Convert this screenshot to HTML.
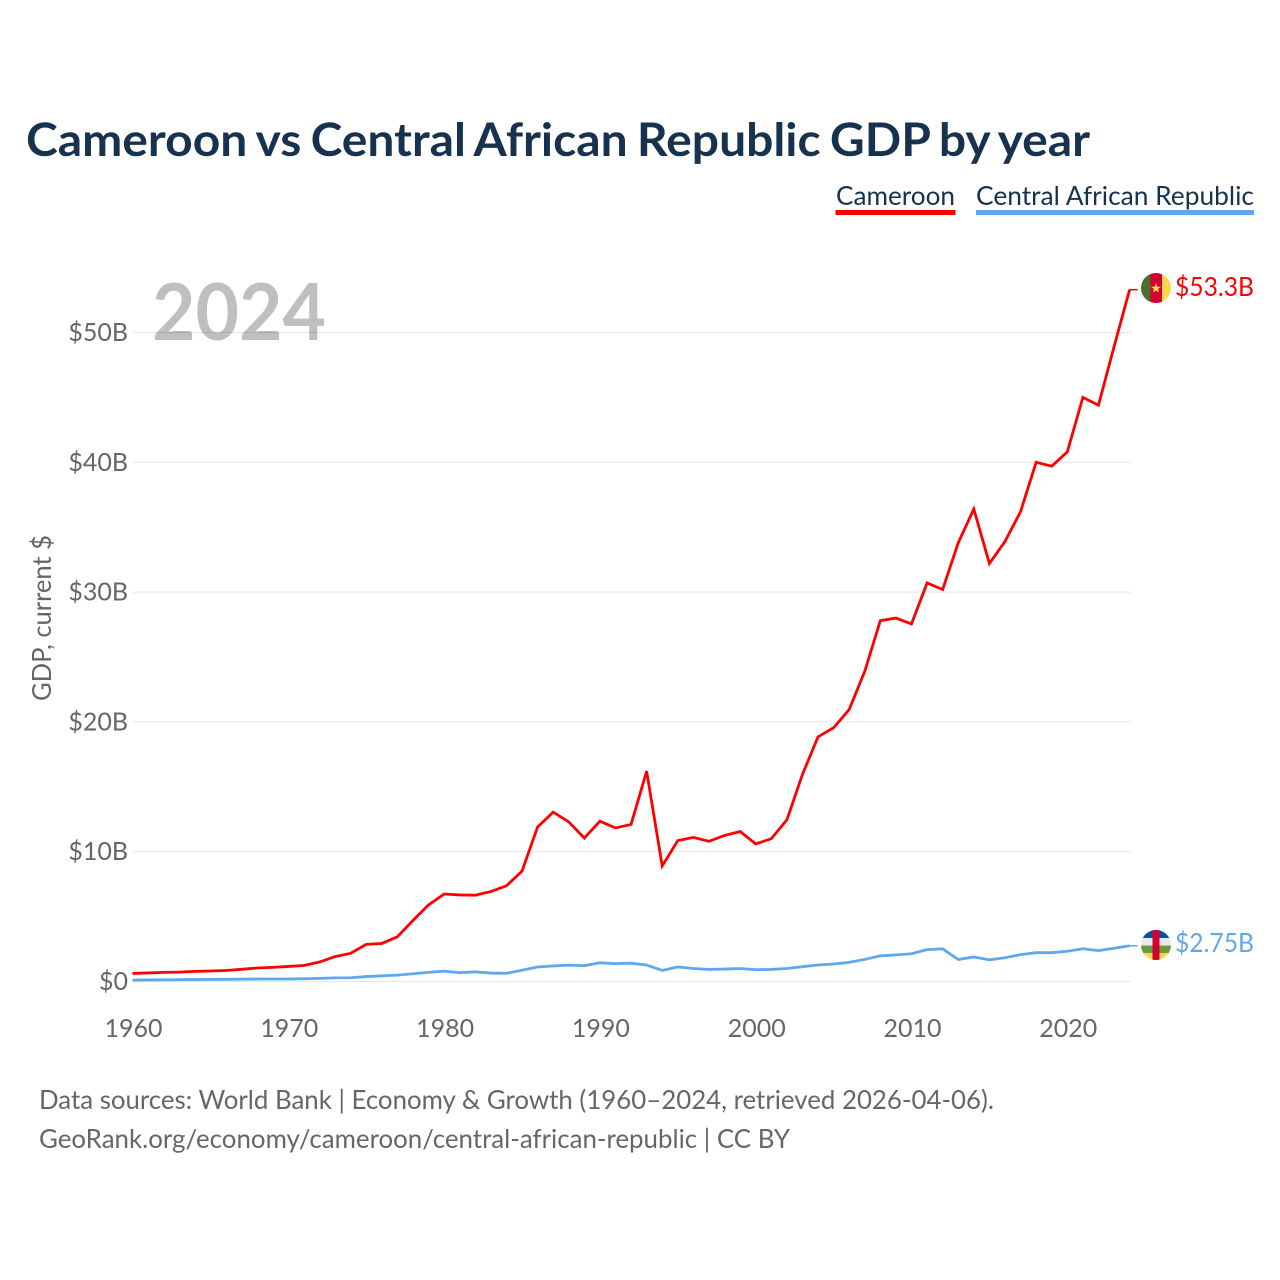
<!DOCTYPE html>
<html lang="en">
<head>
<meta charset="utf-8">
<title>Cameroon vs Central African Republic GDP by year</title>
<style>
html,body{margin:0;padding:0;background:#fff;width:1280px;height:1280px;overflow:hidden}
svg{display:block}
text{font-family:"Lato","Carlito","Liberation Sans",sans-serif}
</style>
</head>
<body>
<svg id="chart" xmlns="http://www.w3.org/2000/svg" width="1280" height="1280" viewBox="0 0 1280 1280">
  <rect width="1280" height="1280" fill="#fff"/>
  <text x="26" y="156" font-size="46" font-weight="700" fill="#17324f" word-spacing="-2.3" textLength="1064" lengthAdjust="spacingAndGlyphs">Cameroon vs Central African Republic GDP by year</text>

  <g>
    <text x="836" y="205" font-size="26" fill="#17324f" textLength="119" lengthAdjust="spacingAndGlyphs">Cameroon</text>
    <rect x="835.500" y="210" width="120" height="5" fill="#ff0000"/>
  </g>
  <g>
    <text x="976" y="205" font-size="26" fill="#17324f" textLength="278" lengthAdjust="spacingAndGlyphs">Central African Republic</text>
    <rect x="976" y="210" width="278" height="5" fill="#5fa8ee"/>
  </g>

  <g id="grid"></g>
  <g id="yTicks"></g>
  <g id="xTicks"></g>

  <text transform="translate(51,618) rotate(-90)" text-anchor="middle" font-size="26" fill="#666" textLength="166" lengthAdjust="spacingAndGlyphs">GDP, current $</text>
  <text x="152" y="340" font-size="79" font-weight="700" fill="#000" fill-opacity="0.25" textLength="174" lengthAdjust="spacingAndGlyphs">2024</text>

  <g id="series"></g>

  <defs>
    <clipPath id="flagClipCm"><circle cx="1156" cy="288" r="15"/></clipPath>
    <clipPath id="flagClipCf"><circle cx="1156" cy="945" r="15"/></clipPath>
  </defs>

  <g clip-path="url(#flagClipCm)">
    <rect x="1141" y="273" width="9.500" height="30" fill="#4a6f2c"/>
    <rect x="1150.500" y="273" width="11.500" height="30" fill="#d5002f"/>
    <rect x="1162" y="273" width="9" height="30" fill="#ffd44f"/>
    <polygon points="1156,283 1157.300,286.600 1161,286.700 1158.100,289 1159.100,292.600 1156,290.500 1152.900,292.600 1153.900,289 1151,286.700 1154.700,286.600" fill="#ffd44f"/>
  </g>
  <g clip-path="url(#flagClipCf)">
    <rect x="1141" y="930" width="30" height="8" fill="#0b4ea2"/>
    <rect x="1141" y="938" width="30" height="7.500" fill="#e9e9e9"/>
    <rect x="1141" y="945.500" width="30" height="7.500" fill="#6a9a3d"/>
    <rect x="1141" y="953" width="30" height="7" fill="#ffd44f"/>
    <rect x="1152.500" y="930" width="7" height="30" fill="#d5002f"/>
  </g>

  <text x="1175" y="296" font-size="26" fill="#ff0000" textLength="79" lengthAdjust="spacingAndGlyphs">$53.3B</text>
  <text x="1175" y="952" font-size="26" fill="#5fa8ee" textLength="79" lengthAdjust="spacingAndGlyphs">$2.75B</text>

  <text x="39" y="1109" font-size="26" fill="#666" textLength="955" lengthAdjust="spacingAndGlyphs">Data sources: World Bank | Economy &amp; Growth (1960–2024, retrieved 2026-04-06).</text>
  <text x="39" y="1148" font-size="26" fill="#666" textLength="751" lengthAdjust="spacingAndGlyphs">GeoRank.org/economy/cameroon/central-african-republic | CC BY</text>
</svg>
<script>
var startYear = 1960;
var cameroonValues = [0.62,0.66,0.70,0.72,0.78,0.81,0.85,0.94,1.04,1.09,1.16,1.23,1.50,1.92,2.17,2.86,2.93,3.44,4.70,5.90,6.74,6.67,6.65,6.93,7.37,8.50,11.90,13.05,12.30,11.05,12.35,11.83,12.10,16.20,8.90,10.85,11.10,10.80,11.25,11.55,10.60,11.00,12.45,15.95,18.85,19.55,20.95,23.90,27.80,28.00,27.55,30.70,30.20,33.80,36.40,32.20,33.90,36.20,40.00,39.70,40.80,45.00,44.40,48.90,53.30];
var carValues = [0.11,0.12,0.13,0.14,0.15,0.16,0.17,0.18,0.19,0.19,0.19,0.21,0.24,0.28,0.29,0.38,0.44,0.49,0.60,0.70,0.80,0.68,0.74,0.65,0.63,0.87,1.12,1.20,1.26,1.22,1.44,1.38,1.41,1.27,0.85,1.12,1.00,0.93,0.96,1.00,0.91,0.93,1.00,1.14,1.27,1.35,1.47,1.70,1.98,2.05,2.14,2.45,2.52,1.69,1.89,1.67,1.83,2.07,2.22,2.22,2.33,2.52,2.38,2.56,2.75];
var yTickValues = [0,10,20,30,40,50];
var yTickLabels = ["$0","$10B","$20B","$30B","$40B","$50B"];
var xTickValues = [1960,1970,1980,1990,2000,2010,2020];

var NS = "http://www.w3.org/2000/svg";
function xScale(year){ return 132.5 + (year - 1960) * 15.58; }
function yScale(v){ return 981.5 - v * 12.98; }

function make(tag, attrs, parent, content){
  var el = document.createElementNS(NS, tag);
  for (var k in attrs) el.setAttribute(k, attrs[k]);
  if (content !== undefined) el.textContent = content;
  parent.appendChild(el);
  return el;
}

var grid = document.getElementById("grid");
var yTicks = document.getElementById("yTicks");
var xTicks = document.getElementById("xTicks");
var series = document.getElementById("series");

yTickValues.forEach(function(v, i){
  var line = make("line", {x1:132.5, x2:xScale(2024)+1, y1:yScale(v), y2:yScale(v), stroke:"#e8e8e8", "stroke-width":1.2}, grid);
  
  
  var t = make("text", {x:128, y:yScale(v)+8.5, "text-anchor":"end", "font-size":25, fill:"#666"}, yTicks, yTickLabels[i]);
  
  
});

xTickValues.forEach(function(y){
  var t = make("text", {x:xScale(y)+1, y:1037, "text-anchor":"middle", "font-size":25, fill:"#666"}, xTicks, String(y));
  
  
});

function linePath(values){
  return values.map(function(v, i){
    return (i ? "L" : "M") + xScale(startYear + i).toFixed(2) + " " + yScale(v).toFixed(2);
  }).join(" ");
}

function drawSeries(values, color){
  var last = values[values.length - 1];
  var lastX = xScale(startYear + values.length - 1);
  var connector = make("line", {x1:lastX, x2:lastX + 8, y1:yScale(last), y2:yScale(last), stroke:color, "stroke-width":1.5}, series);
  
  
  var p = make("path", {d:linePath(values), fill:"none", stroke:color, "stroke-width":2.8, "stroke-linejoin":"miter"}, series);
  
  
}

drawSeries(carValues, "#5fa8ee");
drawSeries(cameroonValues, "#ff0000");
</script>
</body>
</html>
